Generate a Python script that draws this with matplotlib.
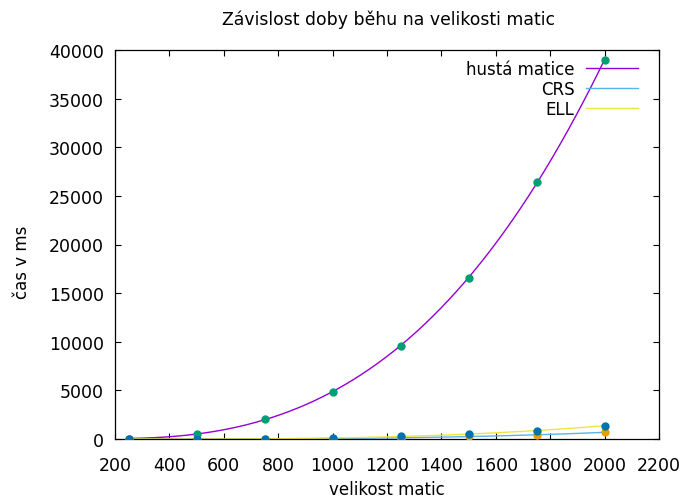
import numpy as np
import matplotlib.pyplot as plt

# Matrix sizes and measured times (ms)
velikost = [250, 500, 750, 1000, 1250, 1500, 1750, 2000]
husta_ms = [40, 515, 2060, 4830, 9560, 16550, 26420, 38960]
ell_ms = [0, 10, 20, 70, 280, 515, 855, 1370]
crs_ms = [0, 5, 10, 40, 130, 260, 420, 690]

x_ticks = list(range(200, 2201, 200))
y_ticks = list(range(0, 40001, 5000))

# Cubic fits through the measured points
xs = np.linspace(velikost[0], velikost[-1], 300)
fit_husta = np.polyval(np.polyfit(velikost, husta_ms, 3), xs)
fit_crs = np.polyval(np.polyfit(velikost, crs_ms, 3), xs)
fit_ell = np.polyval(np.polyfit(velikost, ell_ms, 3), xs)

plt.rcParams['font.family'] = 'DejaVu Sans'
fig = plt.figure(figsize=(6.88, 5.02), dpi=100)
ax = fig.add_axes([115/688, 62/502, 544/688, 389/502])

ax.plot(xs, fit_husta, color='#9400d3', lw=1.0, label='hustá matice')
ax.plot(xs, fit_crs, color='#56b4e9', lw=1.0, label='CRS')
ax.plot(xs, fit_ell, color='#f0e442', lw=1.0, label='ELL')

ax.scatter(velikost, husta_ms, color='#009e73', s=36, zorder=5, linewidths=0)
ax.scatter(velikost, crs_ms, color='#e69f00', s=36, zorder=5, linewidths=0)
ax.scatter(velikost, ell_ms, color='#0072b2', s=36, zorder=6, linewidths=0)

ax.set_xlim(200, 2200)
ax.set_ylim(0, 40000)
ax.set_xticks(x_ticks)
ax.set_yticks(y_ticks)
ax.tick_params(direction='in', length=4.5, width=0.8, top=True, right=True,
               labelsize=12.5, colors='black')
ax.tick_params(axis='x', pad=12)
ax.tick_params(axis='y', pad=8)
for s in ax.spines.values():
    s.set_linewidth(0.9)

fig.text(389/688, 1 - 20/502, 'Závislost doby běhu na velikosti matic',
         ha='center', va='center', fontsize=12.4)
fig.text(387/688, 1 - 490/502, 'velikost matic', ha='center', va='center', fontsize=12)
fig.text(22/688, 1 - 262/502, 'čas v ms', ha='center', va='center',
         rotation=90, fontsize=12)

ax.legend(loc='upper right', bbox_to_anchor=(638/688, 1 - 61/502),
          bbox_transform=fig.transFigure, frameon=False, markerfirst=False,
          borderaxespad=0, borderpad=0, handlelength=3.1, handletextpad=0.7,
          labelspacing=0.12, fontsize=12)

plt.savefig('out.png', dpi=100)
